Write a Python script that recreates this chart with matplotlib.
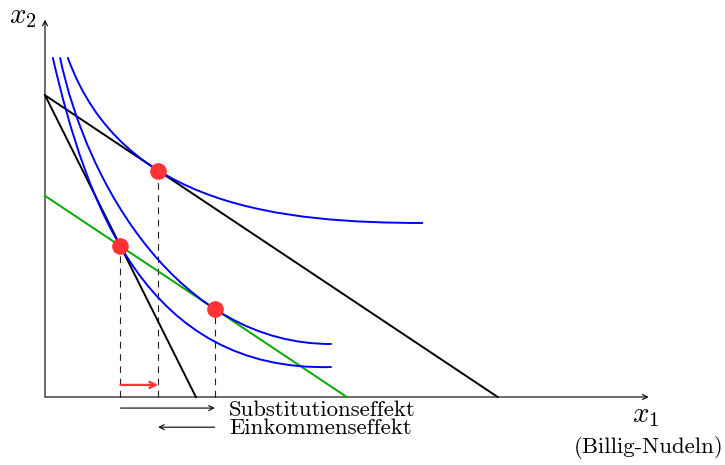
import numpy as np
import matplotlib.pyplot as plt
from matplotlib.path import Path
from matplotlib.patches import PathPatch

plt.rcParams["mathtext.fontset"] = "cm"
plt.rcParams["font.family"] = "cmr10"
plt.rcParams["axes.formatter.use_mathtext"] = True

# budget lines as (x-intercept, y-intercept)
budget_old = (3.0, 6.0)
budget_new = (9.0, 6.0)
budget_comp = (6.0, 4.0)

# optimal bundles
pt_A = (1.5, 3.0)     # old optimum
pt_B = (3.375, 1.75)  # compensated optimum
pt_C = (2.25, 4.5)    # new optimum

# indifference curves, points
ic_low_x = [0.153, 0.298, 0.463, 0.630, 1.093, 1.5, 1.889, 2.221, 2.883, 3.539, 4.209, 4.871, 5.700]
ic_low_y = [6.754, 6.044, 5.447, 4.911, 3.783, 3.0, 2.465, 1.928, 1.332, 0.994, 0.801, 0.702, 0.596]
ic_mid_x = [0.298, 0.463, 0.662, 0.861, 1.551, 2.022, 2.221, 2.883, 3.375, 3.877, 4.533, 5.700]
ic_mid_y = [6.754, 6.044, 5.447, 4.911, 3.783, 2.988, 2.724, 2.127, 1.750, 1.477, 1.233, 1.054]
ic_top_x = [0.451, 0.761, 1.159, 1.557, 2.25, 2.883, 3.413, 3.877, 4.871, 5.865, 7.515]
ic_top_y = [6.754, 6.044, 5.507, 5.10, 4.5, 4.247, 3.982, 3.837, 3.618, 3.499, 3.459]

x_max, y_max = 12.0, 7.5
arrow_y_total = 0.24
arrow_y_sub = -0.22
arrow_y_inc = -0.60


def bezier_fit(xs, ys, anchor, iters=30):
    # one cubic bezier with fixed ends, least squares through the read points
    pts = np.column_stack([xs, ys])
    p0, p3 = pts[0], pts[-1]
    d = np.r_[0, np.cumsum(np.hypot(*np.diff(pts, axis=0).T))]
    t = d / d[-1]
    w = np.ones(len(pts))
    w[np.argmin(np.hypot(pts[:, 0] - anchor[0], pts[:, 1] - anchor[1]))] = 6.0
    for _ in range(iters):
        b0, b1, b2, b3 = (1 - t) ** 3, 3 * t * (1 - t) ** 2, 3 * t ** 2 * (1 - t), t ** 3
        rhs = pts - np.outer(b0, p0) - np.outer(b3, p3)
        A = np.column_stack([b1, b2]) * w[:, None]
        sol = np.linalg.lstsq(A, rhs * w[:, None], rcond=None)[0]
        p1, p2 = sol
        q = np.outer(b0, p0) + np.outer(b1, p1) + np.outer(b2, p2) + np.outer(b3, p3)
        dq = (np.outer(3 * (1 - t) ** 2, p1 - p0) + np.outer(6 * t * (1 - t), p2 - p1)
              + np.outer(3 * t ** 2, p3 - p2))
        ddq = np.outer(6 * (1 - t), p2 - 2 * p1 + p0) + np.outer(6 * t, p3 - 2 * p2 + p1)
        r = q - pts
        num = (r * dq).sum(1)
        den = (dq * dq).sum(1) + (r * ddq).sum(1)
        t = np.clip(t - num / den, 0, 1)
        t[0], t[-1] = 0, 1
    return Path([p0, p1, p2, p3], [Path.MOVETO, Path.CURVE4, Path.CURVE4, Path.CURVE4])


fig = plt.figure(figsize=(7.25, 4.65), dpi=100)
ax = fig.add_axes([0, 0, 1, 1])
unit = 50.3
ax.set_xlim(-45 / unit, (725 - 45) / unit)
ax.set_ylim(-(465 - 397) / unit, 397 / unit)
ax.axis("off")

arrow = dict(arrowstyle="->,head_length=0.35,head_width=0.18", lw=0.8, color="black",
             shrinkA=0, shrinkB=0)

# axes
ax.annotate("", xy=(x_max, 0), xytext=(0, 0), arrowprops=arrow)
ax.annotate("", xy=(0, y_max), xytext=(0, 0), arrowprops=arrow)
ax.text(-0.16, y_max + 0.05, r"$x_2$", fontsize=21, ha="right", va="center")
ax.text(x_max - 0.05, -0.38, r"$x_1$", fontsize=21, ha="center", va="center")
ax.text(x_max, -1.01, "(Billig-Nudeln)", fontsize=16.4, ha="center", va="center")

# budget lines
for bx, by in [budget_old, budget_new]:
    ax.plot([0, bx], [by, 0], color="black", lw=1.4, zorder=3)
ax.plot([0, budget_comp[0]], [budget_comp[1], 0], color="#00aa00", lw=1.4, zorder=3)

# indifference curves
for xs, ys, anchor in [(ic_low_x, ic_low_y, pt_A), (ic_mid_x, ic_mid_y, pt_B),
                       (ic_top_x, ic_top_y, pt_C)]:
    ax.add_patch(PathPatch(bezier_fit(xs, ys, anchor), fill=False, edgecolor="#0000ff",
                           lw=1.4, zorder=4))

# dashed drop lines and points
for px, py in [pt_A, pt_C, pt_B]:
    ax.plot([px, px], [0, py], color="#222222", lw=0.8, ls=(0, (6, 5)), zorder=2)
ax.plot([pt_A[0], pt_C[0], pt_B[0]], [pt_A[1], pt_C[1], pt_B[1]], "o",
        color="#ff3333", ms=11, zorder=6)

# effect arrows
red_arrow = dict(arrow, color="#ff3333", lw=1.6)
red_arrow["arrowstyle"] = "->,head_length=0.45,head_width=0.22"
ax.annotate("", xy=(pt_C[0], arrow_y_total), xytext=(pt_A[0], arrow_y_total), arrowprops=red_arrow)
ax.annotate("", xy=(pt_B[0], arrow_y_sub), xytext=(pt_A[0], arrow_y_sub), arrowprops=arrow)
ax.annotate("", xy=(pt_C[0], arrow_y_inc), xytext=(pt_B[0], arrow_y_inc), arrowprops=arrow)
ax.text(pt_B[0] + 0.28, arrow_y_sub - 0.05, "Substitutionseffekt", fontsize=16.4, ha="left", va="center")
ax.text(pt_B[0] + 0.28, arrow_y_inc - 0.03, "Einkommenseffekt", fontsize=16.4, ha="left", va="center")

fig.savefig("out.png", dpi=100)
